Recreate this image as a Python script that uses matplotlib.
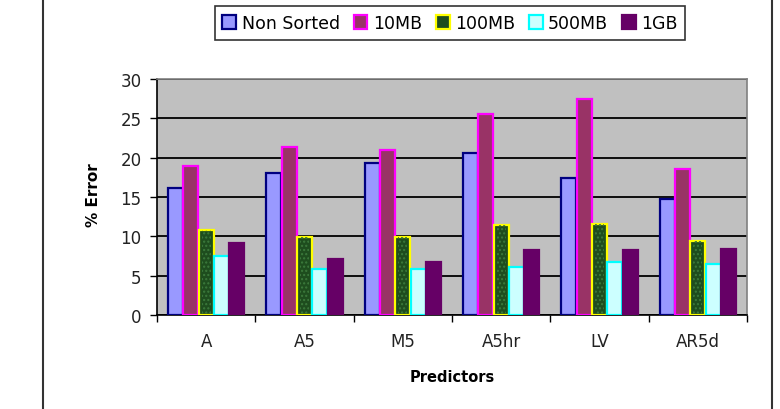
import numpy as np
import matplotlib.pyplot as plt
from matplotlib.lines import Line2D

plt.rcParams['font.family'] = ['DejaVu Sans']

# Data
predictors = ['A', 'A5', 'M5', 'A5hr', 'LV', 'AR5d']
series_names = ['Non Sorted', '10MB', '100MB', '500MB', '1GB']
non_sorted = [16.2, 18.1, 19.3, 20.6, 17.4, 14.8]
mb10 = [18.9, 21.4, 21.0, 25.6, 27.5, 18.6]
mb100 = [10.8, 9.9, 9.9, 11.4, 11.6, 9.4]
mb500 = [7.5, 5.8, 5.9, 6.1, 6.8, 6.5]
gb1 = [9.2, 7.1, 6.8, 8.3, 8.3, 8.4]

series = [non_sorted, mb10, mb100, mb500, gb1]
faces = ['#9999FF', '#993366', '#1E4D1E', '#CCFFFF', '#660066']
edges = ['#000080', '#FF00FF', '#FFFF00', '#00FFFF', '#660066']

fig = plt.figure(figsize=(7.8, 4.1), dpi=100)
ax = fig.add_axes([157 / 780, 1 - 316 / 410, 590 / 780, 236 / 410])
ax.set_facecolor('#C0C0C0')

x = np.arange(len(predictors))
w = 0.156
for i, (vals, fc, ec, name) in enumerate(zip(series, faces, edges, series_names)):
    pos = x - 2 * w + i * w
    ax.bar(pos, vals, width=w * 0.97, color=fc, edgecolor=ec, linewidth=1.6,
           label=name, zorder=3)
    if name == '100MB':
        # speckled texture on the dark green bars
        ax.bar(pos, vals, width=w * 0.6, color='none', edgecolor='#3C7A3C',
               hatch='....', linewidth=0, zorder=4)

ax.set_xlim(-0.5, len(predictors) - 0.5)
ax.set_ylim(0, 30)
ax.set_yticks(np.arange(0, 31, 5))
ax.yaxis.grid(True, color='black', linewidth=1.3, zorder=1)
ax.set_axisbelow(True)

ax.set_xticks(x)
ax.set_xticklabels(predictors)
ax.set_xticks(np.arange(-0.5, len(predictors)), minor=True)
ax.tick_params(axis='x', which='major', length=0, pad=12, labelsize=12, colors='#222222')
ax.tick_params(axis='x', which='minor', length=5, width=1, direction='out')
ax.tick_params(axis='y', length=5, width=1, pad=6, labelsize=12, colors='#222222')
ax.tick_params(axis='both', color='black')

for s in ['top', 'right']:
    ax.spines[s].set_color('#808080')
    ax.spines[s].set_linewidth(1.2)
for s in ['left', 'bottom']:
    ax.spines[s].set_color('black')
    ax.spines[s].set_linewidth(1.2)

fig.text(93 / 780, 1 - 195 / 410, '% Error', rotation=90, ha='center', va='center',
         fontsize=11, fontweight='bold')
fig.text(452 / 780, 1 - 378 / 410, 'Predictors', ha='center', va='center',
         fontsize=10.5, fontweight='bold')

handles, labels = ax.get_legend_handles_labels()
leg = fig.legend(handles, labels, loc='center', bbox_to_anchor=(450 / 780, 1 - 24 / 410),
                 ncol=5, fontsize=12.5, frameon=True, fancybox=False, edgecolor='black',
                 handlelength=0.8, handleheight=0.8, handletextpad=0.3,
                 columnspacing=0.8, borderpad=0.45, borderaxespad=0)
leg.get_frame().set_linewidth(1.2)

# outer chart frame
fig.add_artist(Line2D([43 / 780, 43 / 780], [0, 1], color='#333333', linewidth=1.5))
fig.add_artist(Line2D([772 / 780, 772 / 780], [0, 1], color='#333333', linewidth=1.5))

fig.savefig('out.png', dpi=100)
